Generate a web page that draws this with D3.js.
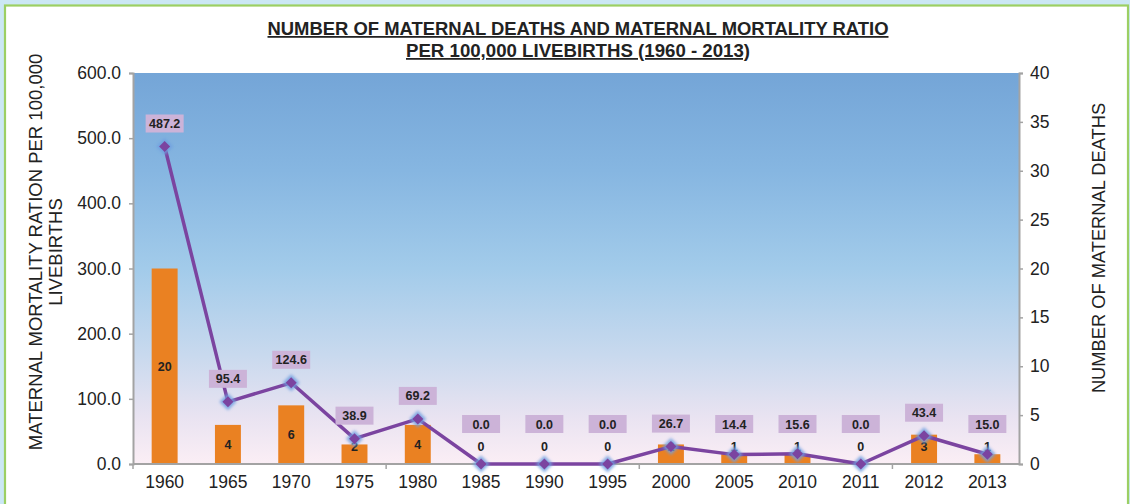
<!DOCTYPE html>
<html><head><meta charset="utf-8">
<script src="https://cdn.jsdelivr.net/npm/d3@7"></script>
<style>
html,body{margin:0;padding:0;background:#cbe7f4;}
svg{display:block;}
text{font-family:"Liberation Sans",Arial,Helvetica,sans-serif;}
</style></head>
<body>
<svg id="chart" width="1130" height="504"></svg>
<script>
const years = ["1960","1965","1970","1975","1980","1985","1990","1995","2000","2005","2010","2011","2012","2013"];
const deaths = [20,4,6,2,4,0,0,0,2,1,1,0,3,1];
const mmr = [487.2,95.4,124.6,38.9,69.2,0.0,0.0,0.0,26.7,14.4,15.6,0.0,43.4,15.0];
const leftTicks = [0,100,200,300,400,500,600];
const rightTicks = [0,5,10,15,20,25,30,35,40];
const titleLines = ["NUMBER OF MATERNAL DEATHS AND MATERNAL MORTALITY RATIO","PER 100,000 LIVEBIRTHS (1960 - 2013)"];
const leftTitle = ["MATERNAL MORTALITY RATION PER 100,000","LIVEBIRTHS"];
const rightTitle = "NUMBER OF MATERNAL DEATHS";

const svg = d3.select("#chart");
const W=1130,H=504;
const P={l:133,r:1019,t:73,b:464};

// frame
svg.append("rect").attr("x",0).attr("y",0).attr("width",W).attr("height",H).attr("fill","#cbe7f4");
svg.append("rect").attr("x",5).attr("y",5.5).attr("width",1123).attr("height",H).attr("fill","#ffffff")
  .attr("stroke","#9ccf63").attr("stroke-width",2.2);

const defs = svg.append("defs");
const g = defs.append("linearGradient").attr("id","bg").attr("x1",0).attr("y1",0).attr("x2",0).attr("y2",1);
[[0,"#74a5d7"],[0.25,"#86b6e1"],[0.5,"#a2cbea"],[0.72,"#c8d9ee"],[0.88,"#e9e3f1"],[1,"#fbeef5"]]
  .forEach(([o,c])=>g.append("stop").attr("offset",o).attr("stop-color",c));
const blur = defs.append("filter").attr("id","glow").attr("x","-50%").attr("y","-50%").attr("width","200%").attr("height","200%");
blur.append("feGaussianBlur").attr("stdDeviation",1.4);

svg.append("rect").attr("x",P.l).attr("y",P.t).attr("width",P.r-P.l).attr("height",P.b-P.t).attr("fill","url(#bg)");

const x = d3.scaleBand().domain(years).range([P.l,P.r]).paddingInner(0.59).paddingOuter(0.295);
const yL = d3.scaleLinear().domain([0,600]).range([P.b,P.t]);
const yR = d3.scaleLinear().domain([0,40]).range([P.b,P.t]);
const cx = d => x(d)+x.bandwidth()/2;

// bars
svg.append("g").selectAll("rect").data(years).join("rect")
  .attr("x",d=>x(d)).attr("width",x.bandwidth())
  .attr("y",(d,i)=>yR(deaths[i])).attr("height",(d,i)=>yR(0)-yR(deaths[i]))
  .attr("fill","#ea8122");

// axes
const axL = svg.append("g").attr("transform",`translate(${P.l},0)`)
  .call(d3.axisLeft(yL).tickValues(leftTicks).tickFormat(d3.format(".1f")).tickSize(4).tickPadding(8));
const axR = svg.append("g").attr("transform",`translate(${P.r},0)`)
  .call(d3.axisRight(yR).tickValues(rightTicks).tickSize(4).tickPadding(7));
const axB = svg.append("g").attr("transform",`translate(0,${P.b})`)
  .call(d3.axisBottom(x).tickSize(0).tickPadding(12));
[axL,axR,axB].forEach(a=>{
  a.select(".domain").attr("stroke","#a3a3a3").attr("stroke-width",2);
  a.selectAll(".tick line").attr("stroke","#a3a3a3").attr("stroke-width",1.5);
  a.selectAll("text").attr("font-size",17.5).attr("fill","#222");
});
axB.select(".domain").attr("d",`M${P.l},0H${P.r}`);
// bottom tick marks every 4 categories
const step = x.step();
svg.append("g").selectAll("line").data([0,4,8,12]).join("line")
  .attr("x1",i=>P.l+step*i).attr("x2",i=>P.l+step*i)
  .attr("y1",P.b).attr("y2",P.b+5).attr("stroke","#a3a3a3").attr("stroke-width",1.5);

// line
const line = d3.line().x((d,i)=>cx(years[i])).y(d=>yL(d));
svg.append("path").datum(mmr).attr("d",line).attr("fill","none")
  .attr("stroke","#7b44a0").attr("stroke-width",3.5).attr("stroke-linejoin","round");

// bar labels
svg.append("g").selectAll("text").data(years).join("text")
  .attr("x",d=>cx(d))
  .attr("y",(d,i)=>Math.min((yR(deaths[i])+yR(0))/2,446.5)+4.5)
  .attr("text-anchor","middle").attr("font-size",12.5).attr("font-weight","bold").attr("fill","#222")
  .text((d,i)=>deaths[i]);

// markers
const diamond = (r)=>`M0,${-r}L${r},0L0,${r}L${-r},0Z`;
const mk = svg.append("g").selectAll("g").data(years).join("g")
  .attr("transform",(d,i)=>`translate(${cx(d)},${yL(mmr[i])})`);
mk.append("path").attr("d",diamond(8.5)).attr("fill","#6f9fe0").attr("opacity",0.85).attr("filter","url(#glow)");
mk.append("path").attr("d",diamond(5.5)).attr("fill","#7b44a0");

// line labels
const lbl = svg.append("g").selectAll("g").data(years).join("g")
  .attr("transform",(d,i)=>`translate(${cx(d)},${Math.min(yL(mmr[i])-23,424)})`);
lbl.append("rect").attr("x",-19).attr("y",-9).attr("width",38).attr("height",18).attr("fill","#ccb3d8");
lbl.append("text").attr("y",4.5).attr("text-anchor","middle").attr("font-size",12.5).attr("font-weight","bold")
  .attr("fill","#222").text((d,i)=>mmr[i].toFixed(1));

// title
const titleW = [621,344];
svg.append("g").selectAll("text").data(titleLines).join("text")
  .attr("x",578).attr("y",(d,i)=>35+i*22).attr("text-anchor","middle")
  .attr("font-size",17.7).attr("font-weight","bold").attr("fill","#222")
  .attr("textLength",(d,i)=>titleW[i]).attr("lengthAdjust","spacingAndGlyphs")
  .attr("text-decoration","underline").text(d=>d);

// left axis title
svg.append("g").attr("transform","translate(0,252) rotate(-90)")
  .selectAll("text").data(leftTitle).join("text")
  .attr("x",0).attr("y",(d,i)=>42+i*20).attr("text-anchor","middle")
  .attr("font-size",18.5).attr("fill","#222").text(d=>d);

// right axis title
svg.append("text").attr("transform","translate(1105,248) rotate(-90)")
  .attr("text-anchor","middle").attr("font-size",18.3).attr("fill","#222").text(rightTitle);
</script>
</body></html>
